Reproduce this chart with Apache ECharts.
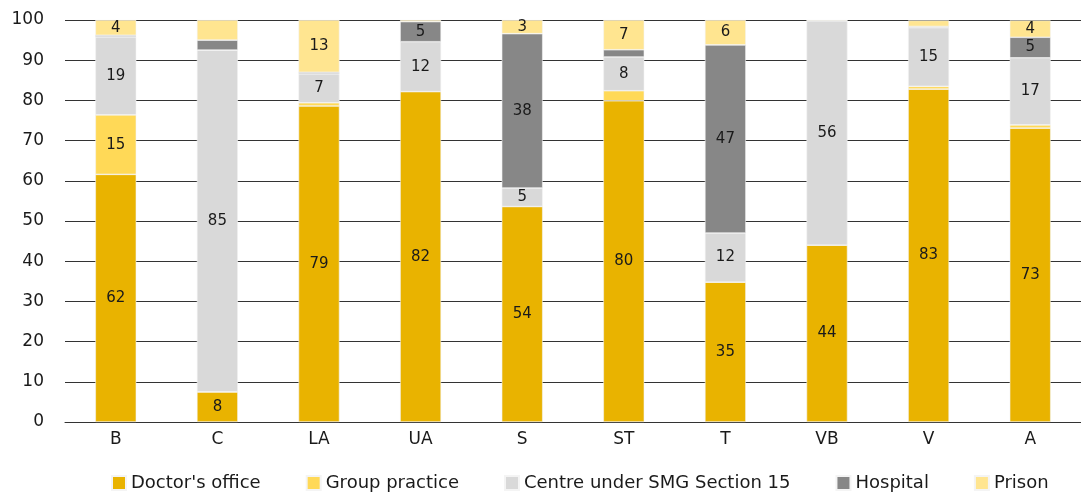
<!DOCTYPE html>
<html>
<head>
<meta charset="utf-8">
<script src="https://cdn.jsdelivr.net/npm/echarts@6/dist/echarts.min.js"></script>
<style>
  html, body { margin: 0; padding: 0; background: #fff; }
  #chart { width: 1081px; height: 493px; }
</style>
</head>
<body>
<div id="chart"></div>
<script>
var categories = ['B', 'C', 'LA', 'UA', 'S', 'ST', 'T', 'VB', 'V', 'A'];
var seriesNames = ["Doctor's office", 'Group practice', 'Centre under SMG Section 15', 'Hospital', 'Prison'];
var colors = ['#E9B300', '#FFD957', '#D9D9D9', '#878787', '#FFE590'];

var doctorsOffice = [61.6, 7.5, 78.6, 82.2, 53.6, 79.9, 34.8, 44.0, 82.8, 73.1];
var groupPractice = [14.8, 0, 0.8, 0, 0, 2.5, 0, 0, 0.7, 0.8];
var centreSection15 = [19.4, 85.0, 7.2, 12.4, 4.6, 8.4, 12.2, 55.8, 14.6, 16.7];
var hospital = [0.4, 2.5, 0.4, 5.0, 38.4, 1.8, 46.8, 0, 0.3, 5.1];
var prison = [3.8, 5.0, 13.0, 0.4, 3.4, 7.4, 6.2, 0.2, 1.5, 4.2];

// segments that carry no value label in the original (series index, category index)
var unlabelled = [[4, 1]];

var yTicks = [0, 10, 20, 30, 40, 50, 60, 70, 80, 90, 100];

var fontName = 'DejaVu Sans';

function isUnlabelled(s, c) {
  for (var k = 0; k < unlabelled.length; k++) {
    if (unlabelled[k][0] === s && unlabelled[k][1] === c) return true;
  }
  return false;
}

function makeSeries(idx, name, data, color) {
  return {
    name: name,
    type: 'bar',
    stack: 'total',
    barWidth: 41,
    data: data,
    itemStyle: { color: color, borderColor: '#f4f4f4', borderWidth: 0.6 },
    label: {
      show: true,
      position: 'inside',
      color: '#1a1a1a',
      fontFamily: fontName,
      fontSize: 15,
      formatter: function (p) {
        if (p.value < 3 || isUnlabelled(idx, p.dataIndex)) return '';
        return Math.round(p.value);
      }
    }
  };
}

var allData = [doctorsOffice, groupPractice, centreSection15, hospital, prison];
var series = [];
for (var i = 0; i < seriesNames.length; i++) {
  series.push(makeSeries(i, seriesNames[i], allData[i], colors[i]));
}

echarts.init(document.getElementById('chart')).setOption({
  animation: false,
  textStyle: { fontFamily: fontName },
  grid: { left: 65, right: 0, top: 20, bottom: 71 },
  legend: {
    top: 474,
    left: 111,
    padding: 0,
    itemWidth: 14,
    itemHeight: 14,
    itemGap: 45,
    icon: 'rect',
    textStyle: { fontSize: 18, color: '#1a1a1a', fontFamily: fontName },
    data: seriesNames
  },
  xAxis: {
    type: 'category',
    data: categories,
    axisLine: { lineStyle: { color: '#333', width: 1 } },
    axisTick: { show: false },
    axisLabel: { color: '#1a1a1a', fontSize: 17, margin: 9 }
  },
  yAxis: {
    type: 'value',
    min: 0,
    max: yTicks[yTicks.length - 1],
    interval: 10,
    axisLine: { show: false },
    axisTick: { show: false },
    axisLabel: { color: '#1a1a1a', fontSize: 17, margin: 21 },
    splitLine: { lineStyle: { color: '#333', width: 1 } }
  },
  series: series
});
</script>
</body>
</html>
